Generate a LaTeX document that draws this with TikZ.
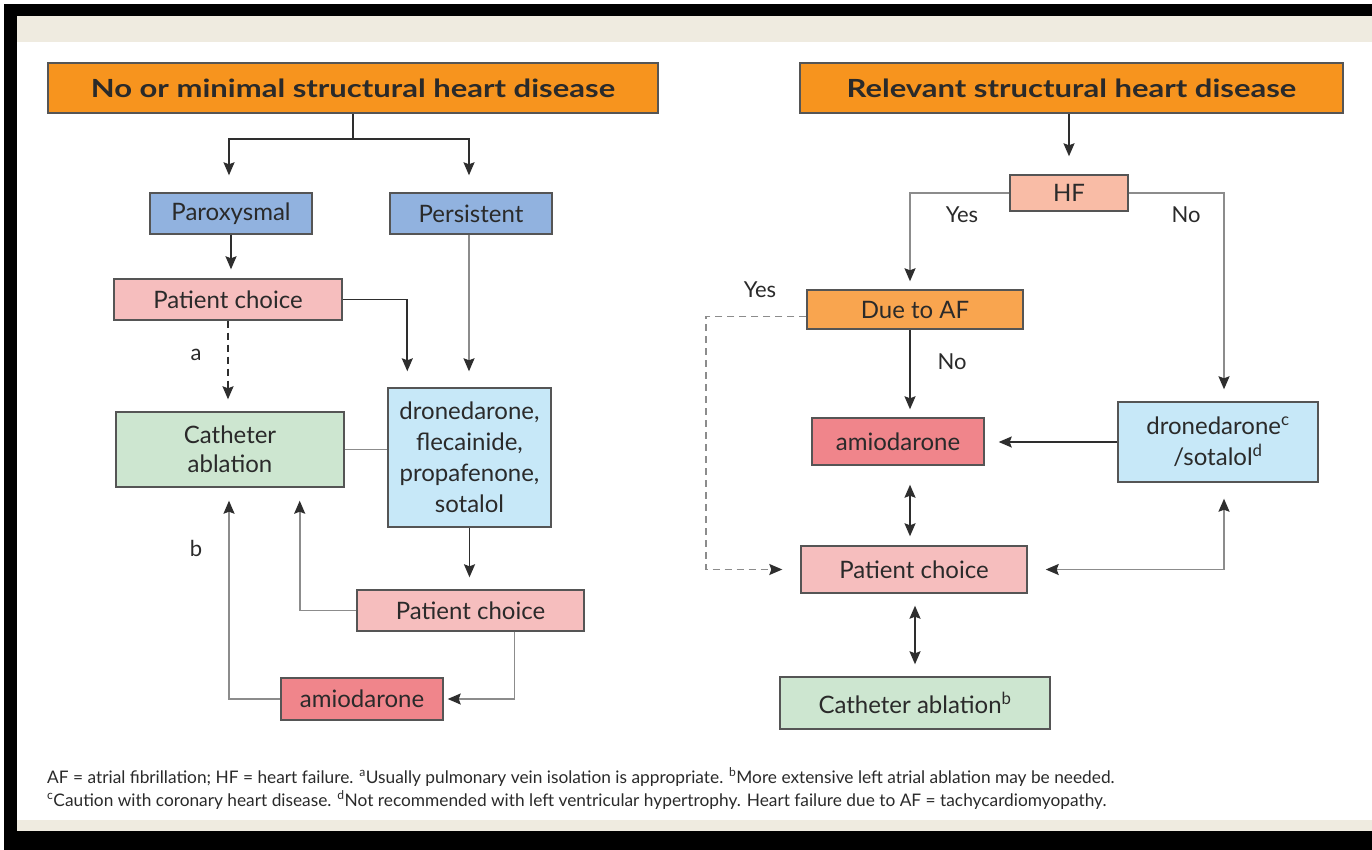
\documentclass[tikz,border=0pt]{standalone}
\usepackage{fontspec}
\setmainfont{Lato}
\usetikzlibrary{arrows.meta,calc}
\definecolor{txt}{HTML}{2A2A2A}
\definecolor{boxline}{HTML}{555555}
\definecolor{blk}{HTML}{2E2E2E}
\definecolor{gry}{HTML}{8C8C8C}
\definecolor{beige}{HTML}{EFEBE0}
\definecolor{corange}{HTML}{F7941E}
\definecolor{cblue}{HTML}{91B2DF}
\definecolor{cpink}{HTML}{F6BEBE}
\definecolor{cgreen}{HTML}{CDE6D0}
\definecolor{clblue}{HTML}{C7E8F8}
\definecolor{cred}{HTML}{F0858B}
\definecolor{csalmon}{HTML}{F9BCA6}
\definecolor{clorange}{HTML}{F9A54F}
\newcommand{\ttl}[1]{\scalebox{1.24}[1]{#1}}
\tikzset{
  box/.style={draw=boxline, line width=1.4pt, text=txt, align=center, inner sep=0pt,
    font=\fontsize{24}{29}\selectfont},
  title/.style={box, fill=corange, font=\fontsize{25}{30}\selectfont\bfseries},
  lab/.style={text=txt, font=\fontsize{22}{26}\selectfont, inner sep=0pt},
  conb/.style={draw=blk, line width=1.7pt},
  cong/.style={draw=gry, line width=1.7pt},
  tip/.style={-{Stealth[length=13pt,width=11pt,inset=2pt,color=blk]}},
  dtip/.style={{Stealth[length=13pt,width=11pt,inset=2pt,color=blk]}-{Stealth[length=13pt,width=11pt,inset=2pt,color=blk]}},
  dashline/.style={dash pattern=on 7pt off 5pt},
  foot/.style={anchor=west, text=txt, inner sep=0pt, font=\fontsize{17.3}{20}\selectfont},
}
\begin{document}
\begin{tikzpicture}[x=1pt,y=-1pt]
\useasboundingbox (0,0) rectangle (1372,850);
\fill[white] (0,0) rectangle (1372,850);
\fill[black] (4,4) rectangle (1372,16);
\fill[black] (4,4) rectangle (17,850);
\fill[black] (4,831) rectangle (1372,850);
\fill[beige] (17,16) rectangle (1372,42);
\fill[beige] (17,820) rectangle (1372,831);

% left nodes
\node[title, minimum width=610pt, minimum height=50pt] (tL) at (353,88) {\ttl{No or minimal structural heart disease}};
\node[box, fill=cblue, minimum width=162pt, minimum height=41pt] (par) at (231,213.5) {Paroxysmal};
\node[box, fill=cblue, minimum width=162pt, minimum height=41pt] (per) at (471,213.5) {Persistent};
\node[box, fill=cpink, minimum width=228pt, minimum height=41pt] (pc1) at (228,299.5) {Patient choice};
\node[box, fill=cgreen, minimum width=228pt, minimum height=75pt] (cat) at (230,449.5) {Catheter\\ablation};
\node[box, fill=clblue, minimum width=163pt, minimum height=139pt, font=\fontsize{24}{31}\selectfont] (dro) at (469.5,457.5) {dronedarone,\\flecainide,\\propafenone,\\sotalol};
\node[box, fill=cpink, minimum width=227pt, minimum height=41pt] (pc2) at (470.5,610.5) {Patient choice};
\node[box, fill=cred, minimum width=162pt, minimum height=42pt] (ami1) at (362,699) {amiodarone};

% right nodes
\node[title, minimum width=543pt, minimum height=50pt] (tR) at (1071.5,88) {\ttl{Relevant structural heart disease}};
\node[box, fill=csalmon, minimum width=118pt, minimum height=36pt] (hf) at (1069,193) {HF};
\node[box, fill=clorange, minimum width=216pt, minimum height=39pt] (due) at (915,309.5) {Due to AF};
\node[box, fill=cred, minimum width=172pt, minimum height=47pt] (ami2) at (898,441.5) {amiodarone};
\node[box, fill=clblue, minimum width=200pt, minimum height=80pt, font=\fontsize{24}{31}\selectfont] (ds) at (1218,442) {dronedarone\textsuperscript{c}\\/sotalol\textsuperscript{d}};
\node[box, fill=cpink, minimum width=226pt, minimum height=47pt] (pc3) at (914,569.5) {Patient choice};
\node[box, fill=cgreen, minimum width=270pt, minimum height=52pt] (cat2) at (915,703) {Catheter ablation\textsuperscript{b}};

% labels
\node[lab] (la) at (196,355) {a};
\node[lab] (lb) at (196,548) {b};
\node[lab] (ly1) at (962,215) {Yes};
\node[lab] (ln1) at (1186,215) {No};
\node[lab] (ly2) at (760,290) {Yes};
\node[lab] (ln2) at (952,362) {No};

% helper coordinates
\coordinate (j1) at ($(tL.south)+(0,25)$);
\coordinate (pA) at ($(per.south)+(-2,0)$);
\coordinate (pB) at ($(pc3.south)+(1,0)$);
\coordinate (d1) at ($(due.south)+(-5,0)$);
\coordinate (d2) at ($(ds.north)+(6,0)$);
\coordinate (dA) at ($(due.west)+(0,7)$);
\coordinate (dL) at (706,0);

% left connectors
\draw[conb] (tL.south) -- (j1);
\draw[conb,tip,shorten >=17pt] (j1) -| ($(par.north)+(-2,0)$);
\draw[conb,tip,shorten >=17pt] (j1) -| ($(per.north)+(-2,0)$);
\draw[conb,tip,shorten >=9pt] (par.south) -- (par.south |- pc1.north);
\draw[conb,tip,shorten >=16pt] (pc1.east) -| ($(dro.north west)+(20,0)$);
\draw[cong,tip,shorten >=16pt] (pA) -- (pA |- dro.north);
\draw[conb,tip,dashline,shorten >=12pt] (pc1.south) -- (pc1.south |- cat.north);
\draw[cong] (cat.east) -- (cat.east -| dro.west);
\draw[conb,tip,shorten >=12pt] (dro.south) -- (dro.south |- pc2.north);
\draw[cong,tip,shorten >=13pt] (pc2.west) -| ($(cat.south east)+(-45,0)$);
\draw[cong,tip,shorten >=4pt] ($(pc2.south)+(44,0)$) |- (ami1.east);
\draw[cong,tip,shorten >=13pt] (ami1.west) -| ($(cat.south)+(-1,0)$);

% right connectors
\draw[conb,tip,shorten >=18pt] (hf.north |- tR.south) -- (hf.north);
\draw[cong,tip,shorten >=8pt] (hf.west) -| (d1 |- due.north);
\draw[cong,tip,shorten >=12pt] (hf.east) -| (d2);
\draw[conb,tip,shorten >=8pt] (d1) -- (d1 |- ami2.north);
\draw[gry,line width=1.5pt,dashline,tip,shorten >=18pt] (dA) -| (dL |- pc3.west) -- (pc3.west);
\draw[conb,tip,shorten >=14pt] (ds.west) -- (ds.west -| ami2.east);
\draw[conb,dtip,shorten <=19pt,shorten >=9pt] (d1 |- ami2.south) -- (d1 |- pc3.north);
\draw[cong,dtip,shorten <=18pt,shorten >=16pt] (pc3.east) -| (d2 |- ds.south);
\draw[conb,dtip,shorten <=12pt,shorten >=12pt] (pB) -- (pB |- cat2.north);

% footnotes
\node[foot] (f1) at (47,777) {AF = atrial fibrillation; HF = heart failure. \textsuperscript{a}Usually pulmonary vein isolation is appropriate. \textsuperscript{b}More extensive left atrial ablation may be needed.};
\node[foot] (f2) at (47,800) {\textsuperscript{c}Caution with coronary heart disease. \textsuperscript{d}Not recommended with left ventricular hypertrophy. Heart failure due to AF = tachycardiomyopathy.};
\end{tikzpicture}
\end{document}
